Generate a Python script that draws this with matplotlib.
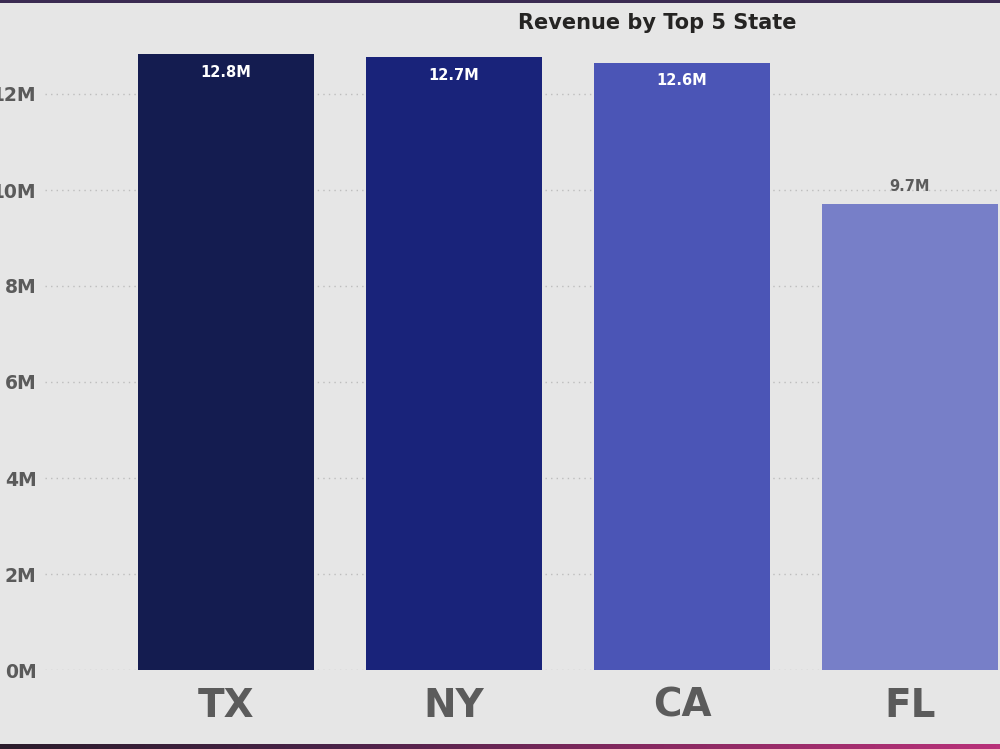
"""
  revenue by top 5 state - bar chart
"""
import numpy as np
import matplotlib
matplotlib.use('Agg')
from matplotlib import pyplot as plt
from matplotlib.colors import LinearSegmentedColormap

states=['TX','NY','CA','FL']
revenue=[12.83,12.77,12.65,9.71]   # millions
labels=['12.8M','12.7M','12.6M','9.7M']
bar_colors=['#141c50','#19237a','#4b55b6','#777fc8']
yticks=[0,2,4,6,8,10,12]
yticklabels=['{}M'.format(t) for t in yticks]

bg='#e6e6e6'
W,H=1000.,749.

fig=plt.figure(figsize=(10,7.49),dpi=100,facecolor=bg)

# axes placed in pixel terms, the left part of the tick labels runs off the figure
left,right,top,base=45.,1000.,40.,670.
ax=fig.add_axes([left/W,(H-base)/H,(right-left)/W,(base-top)/H])
ax.set_facecolor(bg)

x=np.arange(len(states))
ax.bar(x,revenue,width=0.772,color=bar_colors,zorder=2)

# px -> data: category centre TX at 226px, spacing 228px
ax.set_xlim((left-226)/228.,(right-226)/228.)
ax.set_ylim(0,(base-top)/48.)

ax.set_yticks(yticks)
ax.set_yticklabels(yticklabels,fontsize=13.5,fontweight='bold',color='#5b5b5b')
ax.set_xticks(x)
ax.set_xticklabels(states,fontsize=28,fontweight='bold',color='#5b5b5b')
ax.tick_params(axis='both',length=0)
ax.tick_params(axis='y',pad=6)
ax.tick_params(axis='x',pad=12)
ax.grid(axis='y',linestyle=(0,(1,3)),color='#bdbdbd',linewidth=1,zorder=0)
for s in ax.spines.values():
    s.set_visible(False)

for xi,val,lab in zip(x,revenue,labels):
    if val>11:
        ax.text(xi,val-0.22,lab,ha='center',va='top',fontsize=10.5,
                fontweight='bold',color='white',zorder=3)
    else:
        ax.text(xi,val+0.2,lab,ha='center',va='bottom',fontsize=10.5,
                fontweight='bold',color='#5b5b5b',zorder=3)

fig.text(657/W,1-23/H,'Revenue by Top 5 State',ha='center',va='center',
         fontsize=15,fontweight='bold',color='#252423')

# borders: dark strip at top, dark-to-magenta gradient at bottom
top_ax=fig.add_axes([0,1-3/H,1,3/H])
top_ax.set_facecolor('#3b2b52')
top_ax.set_xticks([]);top_ax.set_yticks([])
for s in top_ax.spines.values():
    s.set_visible(False)

cmap=LinearSegmentedColormap.from_list('edge',['#2b1c2c','#4a2348','#8a2a62','#b8327a'])
bot_ax=fig.add_axes([0,0,1,5/H])
bot_ax.imshow(np.linspace(0,1,256).reshape(1,-1),cmap=cmap,aspect='auto')
bot_ax.set_axis_off()

fig.savefig('out.png',dpi=100,facecolor=bg)
